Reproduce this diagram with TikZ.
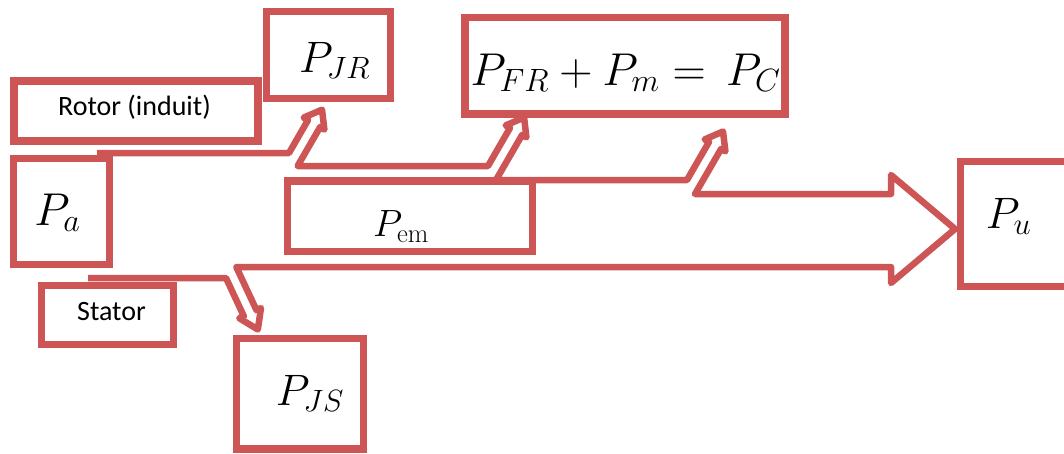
\RequirePackage{fix-cm}
\documentclass[tikz,border=0pt]{standalone}
\usepackage{fontspec}
\newfontfamily\calib{Carlito}
\definecolor{boxred}{RGB}{205,85,85}
\begin{document}
\begin{tikzpicture}[x=1pt,y=-1pt,
  box/.style={draw=boxred, line width=7.5pt, fill=white, inner sep=0pt, line join=miter},
  flow/.style={draw=boxred, line width=6.5pt, line join=round},
  mtxt/.style={anchor=base, inner sep=0pt},
  stxt/.style={anchor=base, inner sep=0pt, font=\calib\fontsize{28}{33}\selectfont}]
\useasboundingbox (0,0) rectangle (1064,453);
\begin{scope}
\clip (0,0) rectangle (1064,453);
% power flow outline
\draw[flow] (97,153) -- (289,153) -- (308,120.1) -- (303.7,117.6) -- (322,109.7) -- (324.4,129.6) -- (320.1,127.1) -- (297.6,166)
  -- (488,166) -- (510,127.9) -- (505.7,125.4) -- (524.1,117.5) -- (526.4,137.4) -- (522.1,134.9) -- (496,180)
  -- (687,180) -- (709,141.9) -- (704.7,139.4) -- (723,131.5) -- (725.4,151.4) -- (721.1,148.9) -- (695,194)
  -- (891,194) -- (891,175) -- (955,229) -- (891,283) -- (891,267)
  -- (236.3,267) -- (256.5,310.2) -- (261,308.1) -- (257.8,329.5) -- (239.3,318.2) -- (243.8,316.1) -- (226,278) -- (88,278);
% boxes
\node[box, minimum width=244pt, minimum height=60pt] (rotor) at (136,111) {};
\node[box, minimum width=96pt, minimum height=106pt] (pa) at (61.5,211.5) {};
\node[box, minimum width=124pt, minimum height=87pt] (pjr) at (328.5,55) {};
\node[box, minimum width=320pt, minimum height=96.5pt] (pfr) at (625,65.75) {};
\node[box, minimum width=245pt, minimum height=70.5pt] (pem) at (410,216.25) {};
\node[box, minimum width=114.5pt, minimum height=125pt] (pu) at (1017.75,224) {};
\node[box, minimum width=132pt, minimum height=59pt] (stator) at (107.5,315) {};
\node[box, minimum width=127pt, minimum height=110.5pt] (pjs) at (300,393.75) {};
% texts
\node[stxt] (trotor) at (134.5,115) {Rotor (induit)};
\node[stxt] (tstator) at (111.5,320) {Stator};
\node[mtxt, font=\fontsize{46}{52}\selectfont] (tpa) at (57.5,225) {$P_a$};
\node[mtxt, font=\fontsize{44}{50}\selectfont] (tpjr) at (334.5,72) {$P_{JR}$};
\node[mtxt, font=\fontsize{46}{52}\selectfont] (tpfr) at (625.5,85) {$P_{FR}+P_m=\,P_C$};
\node[mtxt, font=\fontsize{38}{44}\selectfont] (tpem) at (401,236.5) {$P_{\mathrm{em}}$};
\node[mtxt, font=\fontsize{44}{50}\selectfont] (tpu) at (1008.5,228) {$P_u$};
\node[mtxt, font=\fontsize{44}{50}\selectfont] (tpjs) at (310,405) {$P_{JS}$};
\end{scope}
\end{tikzpicture}
\end{document}
